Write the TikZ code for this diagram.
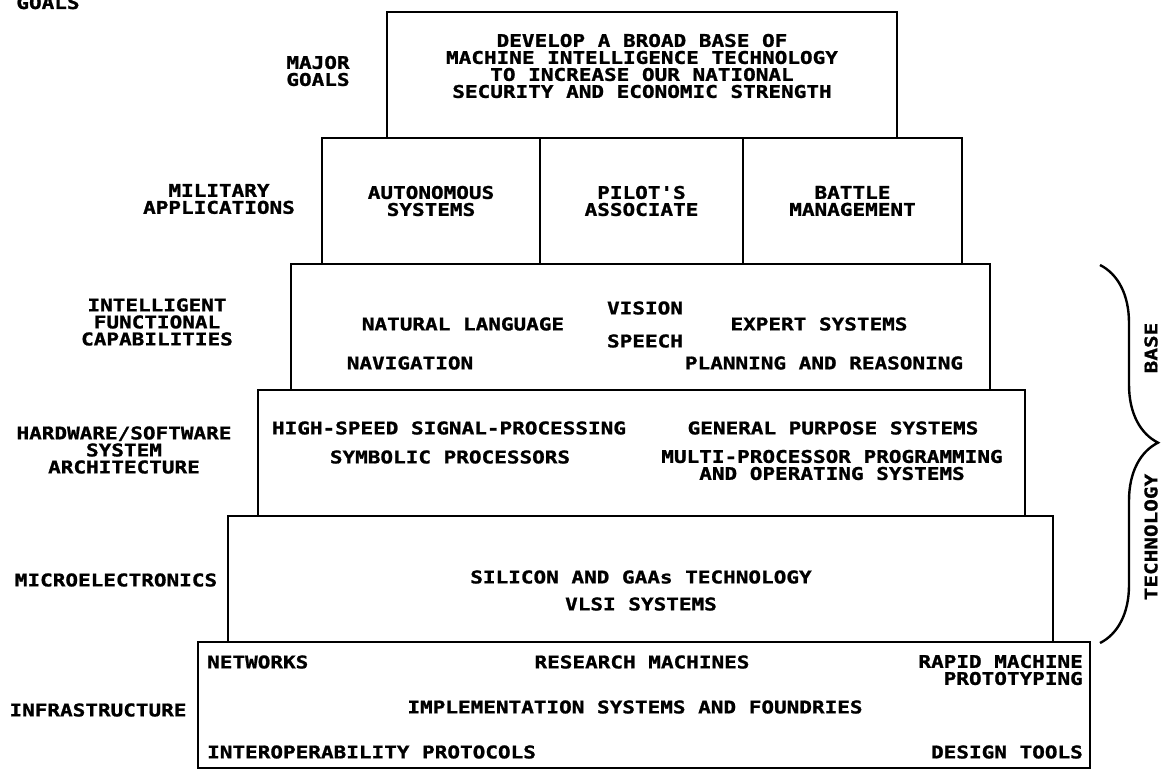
\documentclass[tikz,border=0pt]{standalone}
\usepackage{fontspec}
\newfontfamily\plotfont[FakeStretch=1.2, BoldFeatures={FakeBold=1.2}]{DejaVu Sans Mono}
\usetikzlibrary{positioning,decorations.pathreplacing}
\tikzset{
  pyr/tier/.style={
    draw=black,
    line width=2.4pt,
    inner sep=0pt,
    outer sep=0pt,
    minimum height=126pt,
    align=center,
    font=\plotfont\bfseries\fontsize{17.5pt}{17pt}\selectfont
  },
  pyr/text/.style={
    inner sep=0pt,
    align=center,
    text=black,
    font=\plotfont\bfseries\fontsize{17.5pt}{17pt}\selectfont
  },
  pyr/side/.style={pyr/text, rotate=90},
  pyr/brace/.style={decorate, decoration={brace, amplitude=58pt, aspect=0.47}, line width=2.4pt}
}

\begin{document}
\begin{tikzpicture}[x=1pt,y=-1pt]
  \fill[white] (0,0) rectangle (1164,771);
  \useasboundingbox (0,0) rectangle (1164,771);

  % the pyramid, top to bottom
  \node[pyr/tier, minimum width=510pt] (goal) at (642,75) {};
  \node[pyr/tier, minimum width=218pt] (auto) at (431,201) {AUTONOMOUS\\SYSTEMS};
  \node[pyr/tier, minimum width=203pt, right=0pt of auto] (pilot) {PILOT'S\\ASSOCIATE};
  \node[pyr/tier, minimum width=219pt, right=0pt of pilot] (battle) {BATTLE\\MANAGEMENT};
  \node[pyr/tier, minimum width=699pt] (cap) at (640.5,327) {};
  \node[pyr/tier, minimum width=767pt] (arch) at (641.5,453) {};
  \node[pyr/tier, minimum width=825pt] (micro) at (640.5,579) {};
  \node[pyr/tier, minimum width=892pt] (infra) at (644,705) {};

  \node[pyr/text] (goaltxt) at (642,66)
    {DEVELOP A BROAD BASE OF\\MACHINE INTELLIGENCE TECHNOLOGY\\TO INCREASE OUR NATIONAL\\SECURITY AND ECONOMIC STRENGTH};

  % level names on the left
  \node[pyr/text, anchor=base] (goalshead) at (48,9) {GOALS};
  \foreach \txt/\x/\y [count=\i] in {
    {MAJOR\\GOALS}/318/71,
    {MILITARY\\APPLICATIONS}/219/199,
    {INTELLIGENT\\FUNCTIONAL\\CAPABILITIES}/157/322,
    {HARDWARE/SOFTWARE\\SYSTEM\\ARCHITECTURE}/124/450,
    {MICROELECTRONICS}/116/580,
    {INFRASTRUCTURE}/98/710}
  {\node[pyr/text] (lvl\i) at (\x,\y) {\txt};}

  % contents of the lower tiers
  \foreach \txt/\x/\y [count=\i] in {
    {VISION}/645/308, {NATURAL LANGUAGE}/463/324, {EXPERT SYSTEMS}/819/324,
    {SPEECH}/645/341, {NAVIGATION}/410/363, {PLANNING AND REASONING}/824/363,
    {HIGH-SPEED SIGNAL-PROCESSING}/449/428, {GENERAL PURPOSE SYSTEMS}/833/428,
    {SYMBOLIC PROCESSORS}/450/457,
    {MULTI-PROCESSOR PROGRAMMING\\AND OPERATING SYSTEMS}/832/465,
    {SILICON AND GAAs TECHNOLOGY}/641/577, {VLSI SYSTEMS}/641/604,
    {RESEARCH MACHINES}/642/662, {IMPLEMENTATION SYSTEMS AND FOUNDRIES}/635/707}
  {\node[pyr/text] (item\i) at (\x,\y) {\txt};}

  \node[pyr/text, anchor=west] (net) at (207,662) {NETWORKS};
  \node[pyr/text, anchor=west] (inter) at (207,752) {INTEROPERABILITY PROTOCOLS};
  \node[pyr/text, anchor=east, align=right] (rapid) at (1083,670) {RAPID MACHINE\\PROTOTYPING};
  \node[pyr/text, anchor=east] (design) at (1083,752) {DESIGN TOOLS};

  % brace on the right
  \coordinate (btop) at (1100,265);
  \coordinate (bbot) at (1100,643);
  \draw[pyr/brace] (btop) -- (bbot);
  \node[pyr/side] (base) at (1151,348) {BASE};
  \node[pyr/side] (tech) at (1151,537) {TECHNOLOGY};
\end{tikzpicture}
\end{document}
